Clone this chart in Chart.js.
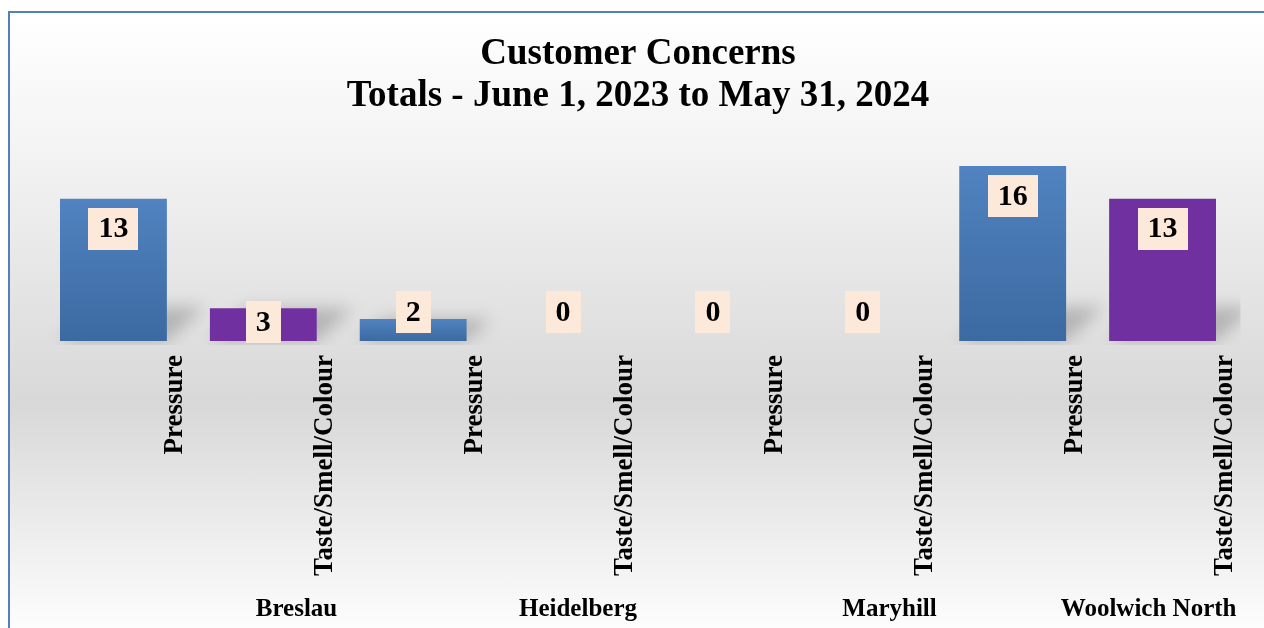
<!DOCTYPE html>
<html>
<head>
<meta charset="utf-8">
<script src="https://cdn.jsdelivr.net/npm/chart.js@4.4.1/dist/chart.umd.min.js"></script>
<style>
  html, body { margin: 0; padding: 0; background: #fff; overflow: hidden; }
  #frame {
    position: absolute; left: 8px; top: 11px; width: 1300px; height: 630px;
    border-left: 2px solid #4f81bd; border-top: 2px solid #4f81bd;
    background: linear-gradient(to bottom, #ffffff 0%, #f3f3f3 22%, #d8d8d8 62%, #ffffff 100%);
  }
  #wrap { position: absolute; left: 0; top: 0; width: 1264px; height: 628px; }
</style>
</head>
<body>
<div id="frame"></div>
<div id="wrap"><canvas id="myChart"></canvas></div>
<script>
const groups = ["Breslau", "Heidelberg", "Maryhill", "Woolwich North"];
const concernTypes = ["Pressure", "Taste/Smell/Colour"];
const pressureCounts = [13, 2, 0, 16];
const tasteCounts = [3, 0, 0, 13];
const yMax = 16;

const serif = "'Liberation Serif', 'Times New Roman', serif";

// one x slot per (group, concern type); the other series is null there
const labels = groups.flatMap(() => concernTypes);
const pressureData = groups.flatMap((g, i) => [pressureCounts[i], null]);
const tasteData = groups.flatMap((g, i) => [null, tasteCounts[i]]);

function blueFill(c) {
  const chart = c.chart;
  const y = chart.scales.y;
  if (!chart.chartArea || !y || c.raw == null) return "#4a7ebb";
  const top = y.getPixelForValue(c.raw);
  const base = y.getPixelForValue(0);
  if (base - top < 1) return "#4a7ebb";
  const g = chart.ctx.createLinearGradient(0, top, 0, base);
  g.addColorStop(0, "#5083c0");
  g.addColorStop(1, "#3c69a1");
  return g;
}

const floorShadow = {
  id: "floorShadow",
  beforeDatasetsDraw(chart) {
    const ctx = chart.ctx;
    const area = chart.chartArea;
    ctx.save();
    ctx.beginPath();
    ctx.rect(area.left, area.top - 60, area.right - area.left + 3, area.bottom - area.top + 64);
    ctx.clip();
    ctx.filter = "blur(8px)";
    ctx.fillStyle = "rgba(0,0,0,0.20)";
    chart.data.datasets.forEach((ds, di) => {
      chart.getDatasetMeta(di).data.forEach((bar, i) => {
        if (ds.data[i] == null) return;
        const p = bar.getProps(["x", "y", "base", "width"], true);
        const hgt = p.base - p.y;
        if (hgt <= 0) return;
        const h = Math.min(hgt, 34);
        const dx = h * 1.1;
        const l = p.x - p.width / 2, r = p.x + p.width / 2;
        ctx.beginPath();
        ctx.moveTo(l, p.base);
        ctx.lineTo(r, p.base);
        ctx.lineTo(r + dx, p.base - h);
        ctx.lineTo(l + dx, p.base - h);
        ctx.closePath();
        ctx.fill();
      });
    });
    ctx.restore();
  }
};

const valueBoxes = {
  id: "valueBoxes",
  afterDatasetsDraw(chart) {
    const ctx = chart.ctx;
    const base = chart.scales.y.getPixelForValue(0);
    ctx.save();
    ctx.font = "bold 30px " + serif;
    ctx.textAlign = "center";
    ctx.textBaseline = "middle";
    chart.data.datasets.forEach((ds, di) => {
      chart.getDatasetMeta(di).data.forEach((bar, i) => {
        const v = ds.data[i];
        if (v == null) return;
        const txt = String(v);
        const w = ctx.measureText(txt).width + 20;
        const h = 42;
        const cy = (base - bar.y) < 25 ? base - 29 : Math.min(bar.y + 30, base - 19);
        ctx.fillStyle = "#fde9d9";
        ctx.fillRect(Math.round(bar.x - w / 2), Math.round(cy - h / 2), Math.round(w), h);
        ctx.fillStyle = "#000";
        ctx.fillText(txt, bar.x, cy + 1);
      });
    });
    ctx.restore();
  }
};

const groupLabels = {
  id: "groupLabels",
  afterDraw(chart) {
    const ctx = chart.ctx;
    const x = chart.scales.x;
    const slot = x.getPixelForValue(1) - x.getPixelForValue(0);
    ctx.save();
    ctx.font = "bold 25px " + serif;
    ctx.fillStyle = "#000";
    ctx.textAlign = "right";
    ctx.textBaseline = "alphabetic";
    groups.forEach((g, gi) => {
      const right = x.getPixelForValue(gi * concernTypes.length + concernTypes.length - 1) + slot / 2 - 1;
      ctx.fillText(g, right, chart.height - 12);
    });
    ctx.restore();
  }
};

const config = {
  type: "bar",
  data: {
    labels: labels,
    datasets: [
      {
        label: concernTypes[0],
        data: pressureData,
        backgroundColor: blueFill,
        borderWidth: 0,
        skipNull: true,
        categoryPercentage: 1,
        barPercentage: 0.713,
      },
      {
        label: concernTypes[1],
        data: tasteData,
        backgroundColor: "#7030a0",
        borderWidth: 0,
        skipNull: true,
        categoryPercentage: 1,
        barPercentage: 0.713,
      },
    ],
  },
  options: {
    responsive: true,
    maintainAspectRatio: false,
    animation: false,
    layout: {
      padding: { left: 38.5, right: 26.5, top: 0, bottom: 0 },
    },
    plugins: {
      legend: { display: false },
      tooltip: { enabled: false },
      title: {
        display: true,
        text: ["Customer Concerns", "Totals - June 1, 2023 to May 31, 2024"],
        color: "#000",
        font: { family: serif, size: 37, weight: "bold", lineHeight: 1.12 },
        padding: { top: 34, bottom: 49 },
      },
    },
    scales: {
      x: {
        offset: true,
        grid: { display: false },
        border: { display: false },
        ticks: {
          autoSkip: false,
          minRotation: 90,
          maxRotation: 90,
          labelOffset: 62,
          padding: 6,
          color: "#000",
          font: { family: serif, size: 27, weight: "bold" },
        },
        afterFit: (scale) => {
          scale.height = 287;
        },
      },
      y: {
        display: false,
        min: 0,
        max: yMax,
      },
    },
  },
  plugins: [floorShadow, valueBoxes, groupLabels],
};

const ctx = document.getElementById("myChart").getContext("2d");
new Chart(ctx, config);
</script>
</body>
</html>
